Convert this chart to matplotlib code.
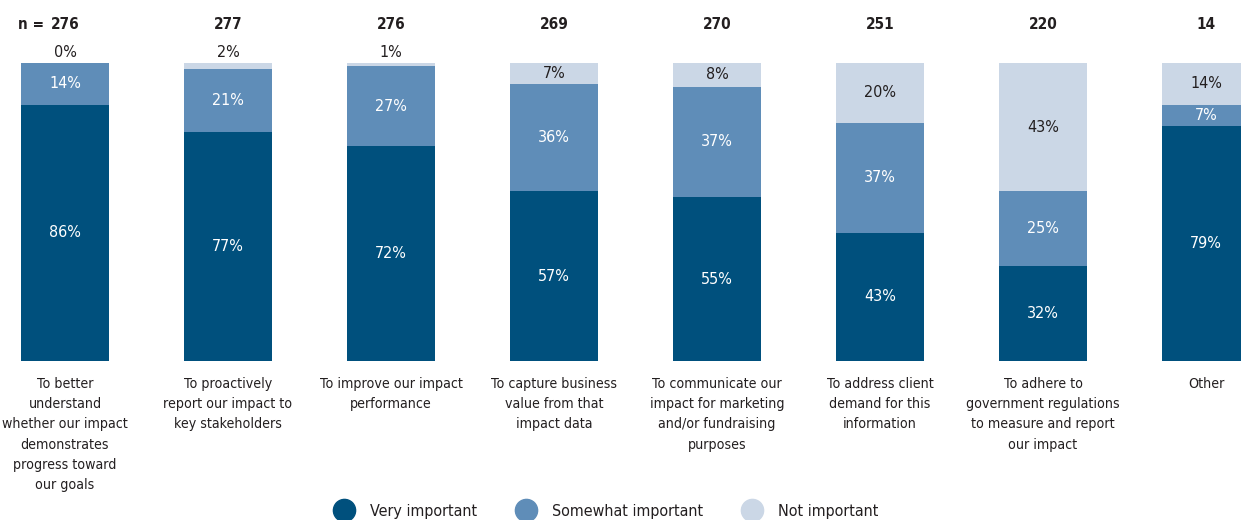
import matplotlib.pyplot as plt
import numpy as np
from matplotlib.lines import Line2D

plt.rcParams['font.family'] = ['DejaVu Sans']
plt.rcParams['font.stretch'] = 'condensed'

labels = ['To better\nunderstand\nwhether our impact\ndemonstrates\nprogress toward\nour goals',
          'To proactively\nreport our impact to\nkey stakeholders',
          'To improve our impact\nperformance',
          'To capture business\nvalue from that\nimpact data',
          'To communicate our\nimpact for marketing\nand/or fundraising\npurposes',
          'To address client\ndemand for this\ninformation',
          'To adhere to\ngovernment regulations\nto measure and report\nour impact',
          'Other']
very = [86, 77, 72, 57, 55, 43, 32, 79]
somewhat = [14, 21, 27, 36, 37, 37, 25, 7]
not_imp = [0, 2, 1, 7, 8, 20, 43, 14]
n_resp = [276, 277, 276, 269, 270, 251, 220, 14]

c_very = '#00507d'
c_some = '#5f8db8'
c_not = '#cbd7e6'
c_text = '#231f20'

fig = plt.figure(figsize=(12.41, 5.2), dpi=100)
ax = fig.add_axes([0, 0.3058, 1, 0.5731])

x = np.arange(len(labels))
width = 0.534
very = np.array(very)
somewhat = np.array(somewhat)
not_imp = np.array(not_imp)

ax.bar(x, very, width, color=c_very)
ax.bar(x, somewhat, width, bottom=very, color=c_some)
ax.bar(x, not_imp, width, bottom=very + somewhat, color=c_not)

ax.set_xlim(-65 / 163, (1241 - 65) / 163)
ax.set_ylim(0, 100)
ax.axis('off')

for i in x:
    ax.text(i, very[i] / 2, f'{very[i]}%', color='white', ha='center', va='center', fontsize=11.5)
    ax.text(i, very[i] + somewhat[i] / 2, f'{somewhat[i]}%', color='white', ha='center', va='center', fontsize=11.5)
    top = very[i] + somewhat[i]
    if not_imp[i] >= 5:
        ax.text(i, top + not_imp[i] / 2, f'{not_imp[i]}%', color=c_text, ha='center', va='center', fontsize=11.5)
    else:
        ax.text(i, 103.4, f'{not_imp[i]}%', color=c_text, ha='center', va='center', fontsize=11.5)
    ax.text(i, 112.8, str(n_resp[i]), color=c_text, ha='center', va='center', fontsize=11, fontweight='bold')
    ax.text(i, -5.5, labels[i], color=c_text, ha='center', va='top', fontsize=10.2, linespacing=1.55)

ax.text(-0.21, 112.8, 'n =', color=c_text, ha='center', va='center', fontsize=11, fontweight='bold')

handles = [Line2D([], [], marker='o', linestyle='', markersize=16, color=c) for c in (c_very, c_some, c_not)]
fig.legend(handles, ['Very important', 'Somewhat important', 'Not important'],
           loc='lower center', bbox_to_anchor=(0.486, -0.025), ncol=3, frameon=False,
           fontsize=11.5, handletextpad=0.6, columnspacing=2.1, labelcolor=c_text)

fig.savefig('out.png', dpi=100)
